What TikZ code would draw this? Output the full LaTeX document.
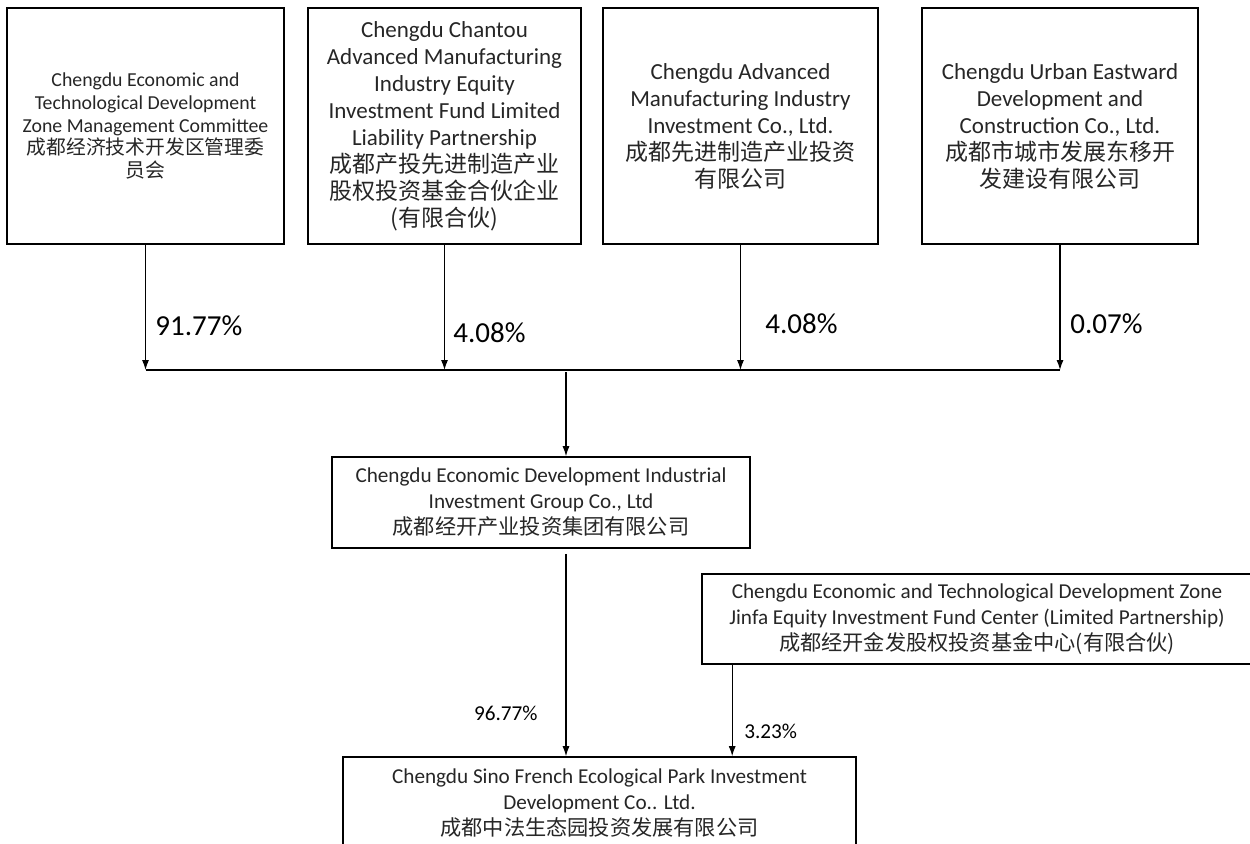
\documentclass[tikz,border=0pt]{standalone}
\usepackage{fontspec}
\setmainfont{Carlito}
\newfontfamily\cjk{Noto Sans CJK SC}
\usetikzlibrary{arrows.meta, positioning}

\begin{document}
\begin{tikzpicture}[x=0.5pt, y=-0.5pt,
    box/.style={draw, line width=0.8pt, align=center, inner sep=0pt, text=black!85},
    topbox/.style={box, minimum height=118pt, font=\fontsize{11.5}{13.5}\selectfont},
    lowbox/.style={box, font=\fontsize{10.6}{13}\selectfont},
    arr/.style={-{Latex[length=5pt,width=3.5pt]}, line width=0.6pt},
    pctbig/.style={inner sep=0pt, font=\fontsize{14.5}{16}\selectfont},
    pctsmall/.style={inner sep=0pt, font=\fontsize{10.6}{12}\selectfont}]

    \useasboundingbox (0,0) rectangle (1250,843);

    % Shareholders of the group
    \node[topbox, minimum width=138.5pt, font=\fontsize{9.9}{11.4}\selectfont] (mgmt) at (145.5,126)
        {Chengdu Economic and\\Technological Development\\Zone Management Committee\\{\cjk 成都经济技术开发区管理委}\\{\cjk 员会}};
    \node[topbox, minimum width=136.5pt] (chantou) at (444.5,126)
        {Chengdu Chantou\\Advanced Manufacturing\\Industry Equity\\Investment Fund Limited\\Liability Partnership\\{\cjk 成都产投先进制造产业}\\{\cjk 股权投资基金合伙企业}\\{\cjk (有限合伙)}};
    \node[topbox, minimum width=137.5pt] (advmfg) at (740.5,126)
        {Chengdu Advanced\\Manufacturing Industry\\Investment Co., Ltd.\\{\cjk 成都先进制造产业投资}\\{\cjk 有限公司}};
    \node[topbox, minimum width=138pt] (urban) at (1060,126)
        {Chengdu Urban Eastward\\Development and\\Construction Co., Ltd.\\{\cjk 成都市城市发展东移开}\\{\cjk 发建设有限公司}};

    % Collecting line
    \coordinate (bus) at (0,370);
    \coordinate (busmid) at (566,372);
    \draw[arr] (mgmt.south) -- (mgmt.south |- bus);
    \draw[arr] (chantou.south) -- (chantou.south |- bus);
    \draw[arr] (advmfg.south) -- (advmfg.south |- bus);
    \draw[arr] (urban.south) -- (urban.south |- bus);
    \draw[line width=0.6pt] (mgmt.south |- bus) -- (urban.south |- bus);

    \node[pctbig, anchor=west] (p1) at (155,326) {91.77\%};
    \node[pctbig, anchor=west] (p2) at (453,333) {4.08\%};
    \node[pctbig, anchor=west] (p3) at (765,324) {4.08\%};
    \node[pctbig, anchor=west] (p4) at (1070,324) {0.07\%};

    % Group and the park company
    \node[lowbox, minimum width=209pt, minimum height=45.5pt] (group) at (541,502.5)
        {Chengdu Economic Development Industrial\\Investment Group Co., Ltd\\{\cjk 成都经开产业投资集团有限公司}};
    \draw[arr] (busmid) -- (busmid |- group.north);

    \node[lowbox, minimum width=275pt, minimum height=45pt] (jinfa) at (977,619)
        {Chengdu Economic and Technological Development Zone\\Jinfa Equity Investment Fund Center (Limited Partnership)\\{\cjk 成都经开金发股权投资基金中心(有限合伙)}};
    \node[lowbox, minimum width=256.5pt, minimum height=46.5pt] (sinofr) at (599.5,803.5)
        {Chengdu Sino French Ecological Park Investment\\Development Co.. Ltd.\\{\cjk 成都中法生态园投资发展有限公司}};

    \coordinate (jout) at ([xshift=15.5pt]jinfa.south west);
    \draw[arr, shorten <=2.5pt] (busmid |- group.south) -- (busmid |- sinofr.north);
    \draw[arr] (jout) -- (jout |- sinofr.north);

    \node[pctsmall, anchor=east] (p5) at (538,713) {96.77\%};
    \node[pctsmall, anchor=west] (p6) at (744,731) {3.23\%};
\end{tikzpicture}
\end{document}
